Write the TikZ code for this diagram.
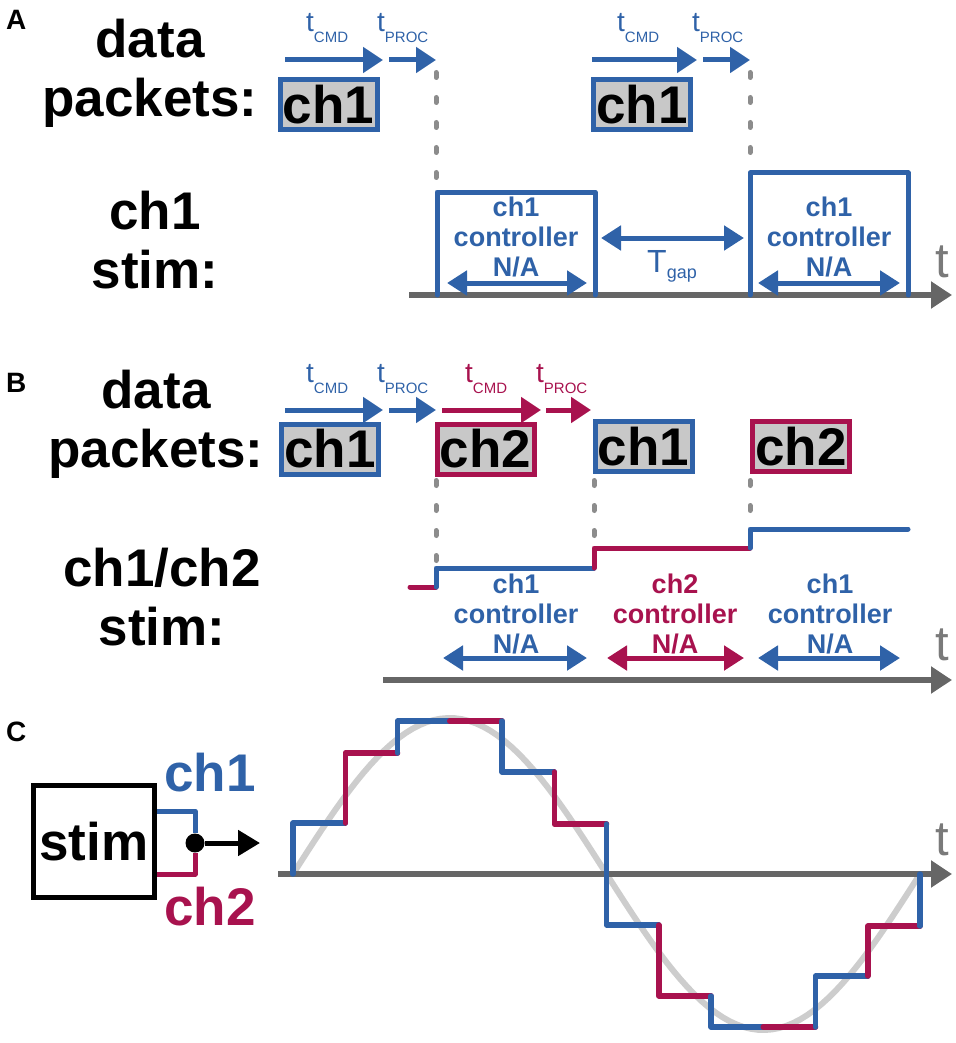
\documentclass[tikz,border=0pt]{standalone}
\usepackage{fontspec}
\setmainfont{Liberation Sans}
\usetikzlibrary{arrows.meta,positioning,calc}

\definecolor{chone}{HTML}{2F62A8}
\definecolor{chtwo}{HTML}{A8124E}
\definecolor{axisgray}{HTML}{666666}
\definecolor{tgray}{HTML}{7A7A7A}
\definecolor{dashgray}{HTML}{8C8C8C}
\definecolor{pktgray}{HTML}{C8C8C8}
\definecolor{sinegray}{HTML}{CDCDCD}

\newcommand{\tsub}[1]{t\raisebox{-11pt}{\fontsize{15}{15}\selectfont #1}}

\begin{document}
\begin{tikzpicture}[x=1pt, y=-1pt,
        panellabel/.style={font=\fontsize{28}{28}\selectfont\bfseries, anchor=base west, inner sep=0},
        biglabel/.style={font=\fontsize{53}{59}\selectfont\bfseries, align=center, anchor=base, inner sep=0},
        packet/.style={draw=#1, fill=pktgray, line width=5pt, minimum width=97pt, minimum height=50pt, inner sep=0, font=\fontsize{53}{53}\selectfont\bfseries},
        tlabel/.style={text=#1, font=\fontsize{28}{28}\selectfont, anchor=base west, inner sep=0},
        ctrllabel/.style={text=#1, font=\fontsize{27}{30}\selectfont\bfseries, align=center, anchor=base, inner sep=0},
        timearrow/.style={draw=#1, line width=5pt, -{Triangle[length=20pt,width=25pt]}},
        span/.style={draw=#1, line width=5pt, {Triangle[length=20pt,width=24pt]}-{Triangle[length=20pt,width=24pt]}},
        dashlink/.style={draw=dashgray, line width=5pt, line cap=round, dash pattern=on 5pt off 20pt},
        taxis/.style={draw=axisgray, line width=5.5pt, -{Triangle[length=21pt,width=26pt]}},
        axislabel/.style={text=tgray, font=\fontsize{49}{49}\selectfont, anchor=base, inner sep=0},
        stimtrace/.style={draw=#1, line width=5pt, line cap=round, line join=round},
        steptrace/.style={line width=5.5pt, line cap=round, line join=round}
    ]
    \useasboundingbox (0,0) rectangle (955,1043);

    % ---------------- Panel A ----------------
    \node [panellabel] (labA) at (6,30) {A};
    \node [biglabel] (pktsA) at (150,117) {data\\packets:};
    \node [biglabel] (stimA) at (155,288) {ch1\\stim:};

    \node [packet=chone] (pA1) at (328.5,104.5) {ch1};
    \node [packet=chone] (pA2) at (642,105) {ch1};

    % command / processing times
    \coordinate (cmdA1s) at (285,60);  \coordinate (cmdA1e) at (383,60);
    \coordinate (procA1s) at (389,60); \coordinate (procA1e) at (436,60);
    \coordinate (cmdA2s) at (592,60);  \coordinate (cmdA2e) at (697,60);
    \coordinate (procA2s) at (703,60); \coordinate (procA2e) at (750,60);
    \path [timearrow=chone] (cmdA1s) -- (cmdA1e);
    \path [timearrow=chone] (procA1s) -- (procA1e);
    \path [timearrow=chone] (cmdA2s) -- (cmdA2e);
    \path [timearrow=chone] (procA2s) -- (procA2e);
    \node [tlabel=chone] (tcmdA1) at (306,32) {\tsub{CMD}};
    \node [tlabel=chone] (tprocA1) at (377,32) {\tsub{PROC}};
    \node [tlabel=chone] (tcmdA2) at (617,32) {\tsub{CMD}};
    \node [tlabel=chone] (tprocA2) at (692,32) {\tsub{PROC}};

    % time axis
    \coordinate (axAs) at (409,295); \coordinate (axAe) at (952,295);
    \path [taxis] (axAs) -- (axAe);
    \node [axislabel] (tA) at (942,277) {t};

    % stimulation pulses
    \coordinate (onA1) at (437,192); \coordinate (offA1) at (595,192);
    \coordinate (onA2) at (750,173); \coordinate (offA2) at (908,173);
    \draw [stimtrace=chone] (onA1 |- axAs) -- (onA1) -- (offA1) -- (offA1 |- axAs);
    \draw [stimtrace=chone] (onA2 |- axAs) -- (onA2) -- (offA2) -- (offA2 |- axAs);
    \path [dashlink] (436,72.5) -- (436,182);
    \path [dashlink] (750,72.5) -- (750,163);

    \node [ctrllabel=chone] (ctrlA1) at (516,276) {ch1\\controller\\N/A};
    \node [ctrllabel=chone] (ctrlA2) at (829,276) {ch1\\controller\\N/A};
    \path [span=chone] (447,283) -- (587,283);
    \path [span=chone] (758,283) -- (900,283);

    % gap between pulses
    \path [span=chone] (601,238) -- (744,238);
    \node [text=chone, font=\fontsize{32}{32}\selectfont, anchor=base, inner sep=0] (gapA) at (672,272) {T\raisebox{-6pt}{\fontsize{18}{18}\selectfont gap}};

    % ---------------- Panel B ----------------
    \node [panellabel] (labB) at (6,392) {B};
    \node [biglabel] (pktsB) at (156,467) {data\\packets:};
    \node [biglabel] (stimB) at (162,645) {ch1/ch2\\stim:};

    \node [packet=chone] (pB1) at (330,449) {ch1};
    \node [packet=chtwo] (pB2) at (485.5,449) {ch2};
    \node [packet=chone] (pB3) at (643.5,446.5) {ch1};
    \node [packet=chtwo] (pB4) at (801,446.5) {ch2};

    \path [timearrow=chone] (285,410) -- (383,410);
    \path [timearrow=chone] (389,410) -- (436,410);
    \path [timearrow=chtwo] (442,410) -- (541,410);
    \path [timearrow=chtwo] (546,410) -- (591,410);
    \node [tlabel=chone] (tcmdB1) at (306,382) {\tsub{CMD}};
    \node [tlabel=chone] (tprocB1) at (377,382) {\tsub{PROC}};
    \node [tlabel=chtwo] (tcmdB2) at (465,382) {\tsub{CMD}};
    \node [tlabel=chtwo] (tprocB2) at (536,382) {\tsub{PROC}};

    \coordinate (axBs) at (383,680); \coordinate (axBe) at (952,680);
    \path [taxis] (axBs) -- (axBe);
    \node [axislabel] (tB) at (942,660) {t};

    \path [dashlink] (436,480.5) -- (436,562);
    \path [dashlink] (594,480.5) -- (594,540);
    \path [dashlink] (750,480.5) -- (750,512);

    % interleaved stimulation levels
    \draw [stimtrace=chtwo] (410,587) -- (436,587);
    \draw [stimtrace=chone] (436,587) -- (436,568) -- (594,568);
    \draw [stimtrace=chtwo] (594,568) -- (594,548) -- (750,548);
    \draw [stimtrace=chone] (750,548) -- (750,529) -- (908,529);

    \node [ctrllabel=chone] (ctrlB1) at (516,653) {ch1\\controller\\N/A};
    \node [ctrllabel=chtwo] (ctrlB2) at (675,653) {ch2\\controller\\N/A};
    \node [ctrllabel=chone] (ctrlB3) at (830,653) {ch1\\controller\\N/A};
    \path [span=chone] (443,658) -- (587,658);
    \path [span=chtwo] (607,658) -- (744,658);
    \path [span=chone] (758,658) -- (900,658);

    % ---------------- Panel C ----------------
    \node [panellabel] (labC) at (6,741) {C};
    \node [draw, line width=5pt, minimum width=121pt, minimum height=112pt, inner sep=0,
           font=\fontsize{53}{53}\selectfont\bfseries] (stimbox) at (94,841.5) {stim};
    \node [circle, fill=black, minimum size=19pt, inner sep=0] (join) at (195,843) {};
    \coordinate (tapone) at (195,811);
    \coordinate (taptwo) at (195,874);
    \coordinate (stimout) at (260,843);
    \draw [stimtrace=chone, line cap=butt] (stimbox.east |- tapone) -- (tapone) -- (join);
    \draw [stimtrace=chtwo, line cap=butt] (stimbox.east |- taptwo) -- (taptwo) -- (join);
    \path [draw=black, line width=5pt, -{Triangle[length=22pt,width=25pt]}] (join) -- (stimout);
    \node [biglabel, text=chone] (lblone) at (210,791) {ch1};
    \node [biglabel, text=chtwo] (lbltwo) at (210,925) {ch2};

    % target waveform and sampled steps
    \draw [sinegray, line width=6pt] plot [domain=0:360, samples=90] ({293+1.741667*\x}, {874-156*sin(\x)});
    \coordinate (axCs) at (278,874); \coordinate (axCe) at (952,874);
    \path [taxis] (axCs) -- (axCe);
    \node [axislabel] (tC) at (942,855) {t};
    \foreach \k/\from/\lev/\col in {0/874/823/chone, 1/823/753/chtwo, 2/753/721/chone, 3/721/721/chtwo,
                                    4/721/772/chone, 5/772/824/chtwo, 6/824/925/chone, 7/925/996/chtwo,
                                    8/996/1027/chone, 9/1027/1027/chtwo, 10/1027/976/chone, 11/976/926/chtwo}
        \draw [steptrace, draw=\col] ({293+52.25*\k},\from) -- ({293+52.25*\k},\lev) -- ({293+52.25*(\k+1)},\lev);
    \draw [steptrace, draw=chone] (920,926) -- (920,874);

\end{tikzpicture}
\end{document}
